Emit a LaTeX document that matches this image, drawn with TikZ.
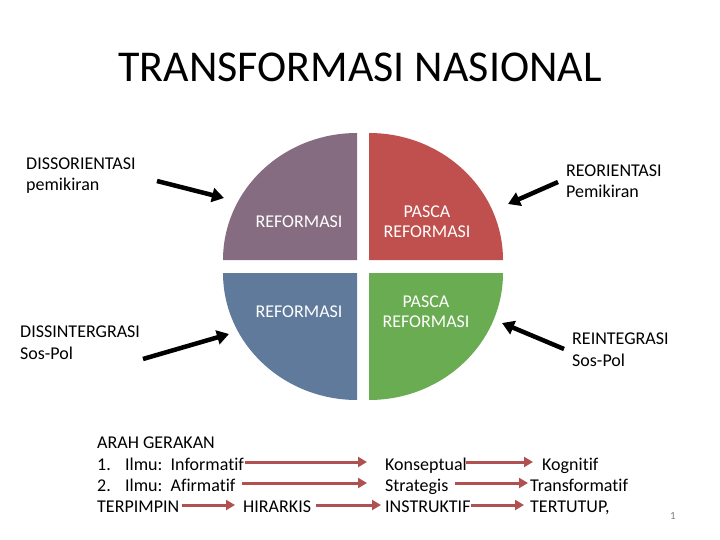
\documentclass[tikz,border=0pt]{standalone}
\usepackage{fontspec}
\setmainfont{Carlito}[Ligatures=CommonOff]
\usetikzlibrary{arrows.meta}
\definecolor{cpurple}{RGB}{134,108,128}
\definecolor{cred}{RGB}{192,80,77}
\definecolor{cblue}{RGB}{96,122,155}
\definecolor{cgreen}{RGB}{106,172,82}
\definecolor{carrow}{RGB}{176,80,80}
\begin{document}
\begin{tikzpicture}[x=1pt,y=-1pt,
  lbl/.style={font=\fontsize{18}{21.5}\selectfont, inner sep=0pt, anchor=base west, align=left},
  wlbl/.style={font=\fontsize{18}{20}\selectfont, inner sep=0pt, anchor=base, align=center, text=white},
  blackarrow/.style={line width=4.5pt, -{Triangle[length=12pt,width=14pt]}},
  redarrow/.style={draw=carrow, line width=3pt, -{Triangle[length=9pt,width=10pt]}}]
\useasboundingbox (0,0) rectangle (720,540);
% title
\node[font=\fontsize{44}{50}\selectfont, inner sep=0pt, anchor=base] (title) at (360,82) {TRANSFORMASI NASIONAL};
% quadrants
\fill[cpurple] (357,260) -- (223,260) arc[start angle=180, end angle=90, x radius=134pt, y radius=127pt] -- cycle;
\fill[cred] (369,260) -- (369,133) arc[start angle=90, end angle=0, x radius=134pt, y radius=127pt] -- cycle;
\fill[cblue] (357,273) -- (223,273) arc[start angle=180, end angle=270, x radius=134pt, y radius=127pt] -- cycle;
\fill[cgreen] (369,273) -- (503,273) arc[start angle=0, end angle=-90, x radius=134pt, y radius=127pt] -- cycle;
% quadrant labels (base = baseline of last line)
\node[wlbl] (q1) at (299,227) {REFORMASI};
\node[wlbl] (q2) at (427,237) {PASCA\\REFORMASI};
\node[wlbl] (q3) at (299,317) {REFORMASI};
\node[wlbl] (q4) at (426,327) {PASCA\\REFORMASI};
% side labels
\node[lbl] (diso) at (26,191) {DISSORIENTASI\\pemikiran};
\node[lbl] (disi) at (20,359) {DISSINTERGRASI\\Sos-Pol};
\node[lbl] (reor) at (566,198) {REORIENTASI\\Pemikiran};
\node[lbl] (rein) at (572,366) {REINTEGRASI\\Sos-Pol};
% black arrows
\coordinate (a1s) at (157,181); \coordinate (a1e) at (224,198);
\coordinate (a2s) at (143,359); \coordinate (a2e) at (229,334);
\coordinate (a3s) at (558,182); \coordinate (a3e) at (508,204);
\coordinate (a4s) at (564,349); \coordinate (a4e) at (502,323);
\draw[blackarrow] (a1s) -- (a1e);
\draw[blackarrow] (a2s) -- (a2e);
\draw[blackarrow] (a3s) -- (a3e);
\draw[blackarrow] (a4s) -- (a4e);
% bottom block
\node[lbl] (arah) at (97,448) {ARAH GERAKAN};
\node[lbl] (r1) at (97,470) {\makebox[28pt][l]{1.}Ilmu:\ \ Informatif};
\node[lbl] (r2) at (97,491) {\makebox[28pt][l]{2.}Ilmu:\ \ Afirmatif};
\node[lbl] (terp) at (97,512.5) {TERPIMPIN};
\node[lbl] (hir) at (243,512.5) {HIRARKIS};
\node[lbl] (kon) at (385,470) {Konseptual};
\node[lbl] (str) at (385,491) {Strategis};
\node[lbl] (ins) at (385,512.5) {INSTRUKTIF};
\node[lbl] (kog) at (542,470) {Kognitif};
\node[lbl] (tra) at (530,491) {Transformatif};
\node[lbl] (ter) at (530,512.5) {TERTUTUP,};
\node[font=\fontsize{11}{13}\selectfont, text=gray, inner sep=0pt, anchor=base] (pg) at (673,519) {1};
% red arrows
\coordinate (b1s) at (245,462); \coordinate (b1e) at (367,462);
\coordinate (b2s) at (242,483); \coordinate (b2e) at (367,483);
\coordinate (b3s) at (182,505); \coordinate (b3e) at (235,505);
\coordinate (b4s) at (316,505); \coordinate (b4e) at (381,505);
\coordinate (b5s) at (466,462); \coordinate (b5e) at (533,462);
\coordinate (b6s) at (455,483); \coordinate (b6e) at (528,483);
\coordinate (b7s) at (471,505); \coordinate (b7e) at (524,505);
\draw[redarrow] (b1s) -- (b1e);
\draw[redarrow] (b2s) -- (b2e);
\draw[redarrow] (b3s) -- (b3e);
\draw[redarrow] (b4s) -- (b4e);
\draw[redarrow] (b5s) -- (b5e);
\draw[redarrow] (b6s) -- (b6e);
\draw[redarrow] (b7s) -- (b7e);
\end{tikzpicture}
\end{document}
